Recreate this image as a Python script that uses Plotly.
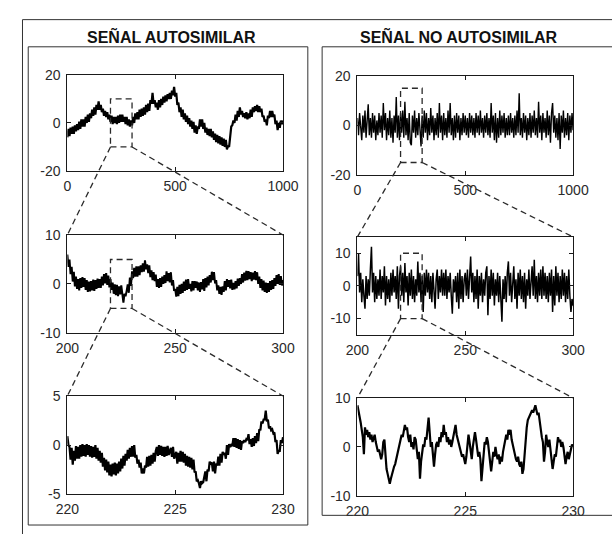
import plotly.graph_objects as go

W, H = 612, 534
FONT = "Liberation Sans, Arial, Helvetica, sans-serif"
INK = "#1a1a1a"

# ---------------------------------------------------------------------------
# Self-similar signal: full record (0-1000), zoom 200-300, zoom 220-230
# ---------------------------------------------------------------------------
ss_full_x0, ss_full_dx = 0, 5
ss_full = [
    -6, -2.5, -5.5, -2, -4.5, -1.5, -4.5, -1, -3.5, -0.5,
    -3, 0.5, -2.5, 1.5, -1.5, 1.5, -1.5, 2.5, 0, 3.5,
    0.5, 4, 2, 5.5, 3, 6.5, 3.5, 7.5, 5.5, 9,
    5.5, 7.5, 4.5, 6, 3, 5, 2.5, 4.5, 1.5, 3.5,
    0.5, 3, -0.5, 2.5, 0, 2.5, -0.5, 3, 0, 3.5,
    0.5, 3.5, 0.5, 2.5, -0.5, 2.5, -1, 1.5, -1.5, 1,
    -1, 2.5, 0, 4, 1.5, 4.5, 1.5, 5.5, 2.5, 6,
    3, 6.5, 3.5, 7.5, 4.5, 8, 5, 9.5, 8, 12.5,
    8, 9.5, 6.5, 8.5, 5.5, 9.5, 6.5, 10, 7.5, 11,
    8.5, 11.5, 9, 12, 10, 12.5, 10, 13.5, 11.5, 15,
    11, 12.5, 7.5, 8.5, 4.5, 6.5, 2.5, 5.5, 1.5, 4,
    0.5, 3, -0.5, 2, -1.5, 1, -2.5, 0.5, -4, -1,
    -4.5, -1.5, -2.5, 1.5, -1.5, 1.5, -2.5, 0, -4, -2,
    -5, -2.5, -5.5, -2.5, -6, -3.5, -7, -4.5, -8, -5,
    -8.5, -5.5, -9, -6, -9.5, -6.5, -10, -7, -11, -9.5,
    -10, -4.5, -1.5, -1, 1, 0, 3.5, 1, 5, 2.5,
    6.5, 3.5, 5, 2.5, 4, 2, 4.5, 1.5, 4, 2,
    5.5, 2.5, 6.5, 4.5, 7, 5, 7.5, 4.5, 7, 4.5,
    6, 2.5, 3, 0.5, 1.5, -1, 3, 2, 5, 2.5,
    5, 2.5, 3.5, -0.5, 1, -3, 0, -2, 1, -0.5,
    1,
]

ss_mid_x0, ss_mid_dx = 200, 0.5
ss_mid = [
    6, 3.5, 5, 2, 3.5, 0.5, 2.5, -0.5, 1.5, -1,
    1, -1.3, 1.2, -0.8, 1.4, -0.6, 1.2, -1.2, 0.8, -1.6,
    0.5, -1.5, 0.6, -1.3, 0.9, -1.4, 0.8, -1, 1.1, -0.8,
    1, -0.8, 1.5, -0.3, 2, 0.1, 2.2, -0.2, 1.7, -0.7,
    1, -1.2, 0.3, -2, -0.1, -2.3, -0.2, -2.5, -0.5, -2.1,
    -0.3, -2.6, -3.8, -2, -2.5, -1.4, -0.1, -1.8, 1.3, -0.4,
    2.6, 1.2, 3.3, 1.5, 3.6, 1.5, 3.6, 1.8, 3.8, 2.4,
    4.2, 2.5, 4.8, 3, 4, 2.2, 3.8, 1.4, 2.8, 0.8,
    2.4, 0.6, 1.9, -0.6, 1, -0.8, 1.2, -0.6, 1.5, 0,
    1.8, 0.2, 2.6, 0.6, 2.2, 0.3, 2.4, -0.3, 0.8, -1.4,
    -1, -2.6, -0.6, -2.5, -0.2, -2, 0, -1.8, 0.5, -1.4,
    0.9, -1.2, 1, -1, 0, -1.5, 0.6, -1.3, 0.6, -0.8,
    0.5, -1.3, 0.3, -1.6, 0.4, -1.1, 1, -1.4, 1.2, -0.7,
    1.5, -0.3, 1.8, 0.3, 2.5, 0.8, 2.4, 0.1, 0.8, -1.3,
    -0.3, -2, -0.6, -2.2, -0.5, -1.6, 0.6, -1.3, 1, -0.6,
    0.8, -0.9, 0.9, -1.2, 0.2, -1.1, 0.6, -0.9, 1.1, -0.4,
    1.2, 0, 2, 0.3, 2.3, 0.7, 2.7, 0.8, 2.6, 1,
    2.4, 0.6, 2.3, 0.9, 2.6, 0.8, 2.4, 0, 1.5, -0.8,
    1, -1.3, 0.7, -1.6, 0.3, -1.8, 0.2, -1.6, 0.6, -1.2,
    0.8, -1, 1.2, -0.4, 1.8, 0, 2, -0.2, 1.6, -0.3,
    0.8,
]

ss_fine_x0, ss_fine_dx = 220, 0.05
ss_fine = [
    0.9, 0, -0.2, -1.5, -0.3, -2, -0.6, -1.6, -0.1, -1.4,
    -0.2, -1.4, 0, -1.2, 0.1, -1.1, 0, -1.2, 0.1, -1,
    0, -1.2, -0.1, -1.3, -0.2, -1.2, 0, -1.4, -0.3, -1.6,
    -0.6, -1.8, -0.8, -2.2, -1.3, -2.6, -1.5, -2.8, -1.7, -3.1,
    -2, -3.2, -1.9, -3, -1.8, -3.1, -1.9, -2.9, -1.7, -2.7,
    -1.4, -2.4, -1.1, -2.1, -0.9, -1.6, -0.5, -1.4, -0.3, -1.2,
    -0.1, -1.2, 0, -1.3, -1, -1.9, -1.5, -2.3, -1.8, -2.9,
    -2.4, -2.9, -2.1, -2.3, -1.2, -2.2, -1.1, -2.1, -1, -1.9,
    -0.8, -1.7, -0.6, -0.2, -1.1, 0, -1, -0.1, -1.1, -0.2,
    -1.2, -0.2, -1.1, -0.1, -1, -0.7, -0.3, -1.2, -0.2, -1.4,
    -1.1, -0.7, -1.9, -0.8, -1.7, -0.6, -1.7, -0.7, -1.8, -0.9,
    -2.1, -1.1, -2.2, -1.2, -2.3, -1.3, -2.5, -1.5, -2.8, -2.7,
    -3.7, -3.6, -3.9, -4.4, -3.7, -3.9, -3.8, -3.2, -2.7, -3.7,
    -2.5, -2.7, -1.7, -1.9, -1.8, -2.7, -1.7, -2.9, -1.9, -2.1,
    -1.2, -2.1, -0.9, -1.8, -0.7, -1, -0.8, -1.4, 0, -1,
    0.1, -0.2, 0, -0.1, 0.7, -0.2, 0.7, -0.3, 0.6, -0.4,
    0.5, -0.5, 0.4, 0.2, 0.5, 0.3, 0.6, 0.5, 1.1, 0.1,
    0.6, -0.2, 0.7, -0.1, 0.9, 0.2, 1.2, 0.4, 1.6, 1.5,
    2.4, 2.2, 2.6, 2.6, 3.5, 2.4, 2.6, 1.7, 1.9, 1.5,
    1.6, 1.2, 1.3, 0.3, 0.5, -0.9, -0.6, -0.6, 0.5, 0.2,
    0.8,
]

# ---------------------------------------------------------------------------
# Non self-similar signal (uncorrelated noise) at the same three scales
# ---------------------------------------------------------------------------
ns_full_x0, ns_full_dx = 0, 5
ns_full = [
    3, -4, 5, -2, -6, 4, -3, 6, -5, 2,
    8.5, -4, 3, -5, 5, -3, 4, -6, 2, -4,
    5, -3, 4, -5, 9, -2, 5, -6, 3, -4,
    6, -5, 3, -7, 4, -3, 11.5, -5, 4, -6,
    5, -3, 6, -5, 9.5, -4, 3, -6, 5, -7,
    -8, 4, -3, 6, -5, 3, -4, 5, -2, -8.5,
    4, -5, 6, -3, 5, -6, 3, -4, 7, -3,
    4, -6, 3, -4, 5, -5, 9, -3, 4, -6,
    5, -4, 3, -5, 6, -3, 9, -4, 3, -6,
    4, -5, 5, -3, 4, -6, 3, -4, 5, -3,
    4, -4, 3, -5, 5, -3, 4, -4, 3, -5,
    5, -3, 4, -4, 6, -3, 3, -5, 4, -3,
    5, -4, 3, -5, 9, -3, 4, -6, 5, -7,
    3, -5, 6, -4, 4, -3, 5, -5, 3, -4,
    4, -4, 5, -3, 3, -5, 4, -4, 6, -3,
    13, -4, 3, -5, 5, -3, 4, -6, 3, -4,
    5, -5, 4, -3, 6, -4, 3, -5, 9.5, -3,
    4, -6, 5, -3, 3, -5, 6, -4, 4, -7,
    5, 9, -3, 4, -5, 3, -6, 5, -9.5, 4,
    -3, 6, -5, 3, -4, 5, -6, 4, -3, 5,
    -2,
]

ns_mid_x0, ns_mid_dx = 200, 0.5
ns_mid = [
    3, 10, -2, 4, -5, 2, -3, -7, 3, -4,
    2, -3, 5, 12, -2, 4, -5, 3, -4, 2,
    -3, 5, -4, 3, -2, 6, -6, 3, -4, 2,
    -5, 4, -3, 5, -2, 3, -4, 6, -7, 3,
    6, -3, 4, -5, 7, -2, 3, -6, 4, -3,
    5, -4, 3, -5, 2, -3, 7.5, -2, 4, -5,
    3, -8, 4, -3, 5, -2, 4, -4, 3, -5,
    4, -3, -7, 2, 5, -4, 3, -2, 5, -3,
    4, -3, 5, -4, 3, -2, 4, -3, -8.5, 2,
    -2, 3, -5, 4, -7, 5, -4, 3, -5, 2,
    4, -3, 5, -4, 3, 9, -2, 4, -5, 3,
    -4, 5, -7, 3, -3, 4, -5, 2, -3, 4,
    6, -9, 3, -4, 5, -3, 4, -6, 2, -3,
    4, -5, 3, -7, -11, 2, -4, 3, -5, 4,
    7.5, -3, 4, -5, 3, 6, -4, 2, -7, 4,
    -3, 5, -4, 3, -5, 4, -7, 2, -3, 5,
    -4, 3, 6, -3, 8, -4, 3, -5, 4, -3,
    5, -4, 6, -3, 4, -4, 3, -5, 4, -3,
    5, -8, 3, -6, 6, -3, 4, -5, 3, -4,
    5, -3, 4, -5, 3, -4, 5, -3, -8, -4,
    -6,
]

ns_fine_x0, ns_fine_dx = 220, 0.05
ns_fine = [
    8.5, 7.5, 6.5, 5, 3.5, 2, -1.5, 4, 2.5, 3.5,
    2, 3, 1.5, 2.5, 1, 2, 2.5, 1, 0, -1,
    -0.5, -1.5, -2.5, -1.5, 1, 1.5, -2, -4.5, -5.5, -6.5,
    -7.5, -6.5, -5.5, -4.5, -4, -3.5, -2.5, -2, -1, 0.5,
    1.5, 2.5, 2, 3.5, 4.5, 3.5, 4, 2, 1, 2.5,
    0, 1, -0.5, 2, 1.5, -0.5, -2.5, -1, -6.5, -3,
    -0.5, 0.5, 0, 2, 1.5, 3.5, 6, 3, 0, 1,
    -2.5, -4, -1.5, 0.5, 1, 0, 2, 1, 3, 2,
    4.5, 2.5, 3, 1, 2, 0.5, 1.5, 0, 1, 2.5,
    3, 4.5, 2.5, 1.5, 0.5, 0, -1, -2, -1.5, -3,
    -3.5, -2, 0, 2.5, 1, -1.5, -2.5, 0, 1.5, 3,
    1.5, 0, -2, -1, -2.5, -7, -4, -1, 1, 0.5,
    2, 1, -1, -2.5, -5, -3, -1, -2, 0, -1.5,
    -2.5, -1.5, -3.5, -2, -3, -1, 0, 1, 2.5, 1.5,
    3.5, 2.5, 3.5, 1.5, 0.5, -0.5, -2, -2.5, -3, -2,
    -3.5, -4, -3, -5.5, -4.5, -1, 2.5, 4, 5.5, 6,
    6.5, 7, 7.5, 7, 8, 8.5, 7.5, 6.5, 7, 5,
    3.5, 2, 1, -3, -1, 2.5, 1, 0, 1.5, -0.5,
    -2, -4.5, -3, -1.5, -2, 0.5, 2, 1, 1.5, 0,
    1, 0, -2, -3.5, -2, -1, -2.5, -1.5, -0.5, 0.5,
    0,
]

# Column titles
titles = ["SEÑAL AUTOSIMILAR", "SEÑAL NO AUTOSIMILAR"]

# Axis ranges / ticks for each zoom level
ranges = {
    "ss": [([0, 1000], [-20, 20]), ([200, 300], [-10, 10]), ([220, 230], [-5, 5])],
    "ns": [([0, 1000], [-20, 20]), ([200, 300], [-15, 15]), ([220, 230], [-10, 10])],
}
xticks = [[0, 500, 1000], [200, 250, 300], [220, 225, 230]]
yticks = {
    "ss": [[-20, 0, 20], [-10, 0, 10], [-5, 0, 5]],
    "ns": [[-20, 0, 20], [-10, 0, 10], [-10, 0, 10]],
}
series = {
    "ss": [(ss_full_x0, ss_full_dx, ss_full), (ss_mid_x0, ss_mid_dx, ss_mid),
           (ss_fine_x0, ss_fine_dx, ss_fine)],
    "ns": [(ns_full_x0, ns_full_dx, ns_full), (ns_mid_x0, ns_mid_dx, ns_mid),
           (ns_fine_x0, ns_fine_dx, ns_fine)],
}
line_widths = {"ss": [2.2, 2.0, 2.2], "ns": [1.4, 1.5, 2.2]}

# Plot-area rectangles in pixels: (left, right, top, bottom)
boxes = {
    "ss": [(58, 284, 69, 168), (58, 284, 234, 335), (58, 284, 400, 501)],
    "ns": [(362, 588, 70, 172), (362, 588, 236, 337), (362, 588, 402, 503)],
}


def px_x(p):
    return p / W


def px_y(p):
    return 1 - p / H


def tick_text(vals):
    # plain hyphen-minus for negative labels
    return ["-%g" % -v if v < 0 else "%g" % v for v in vals]


fig = go.Figure()
layout_axes = {}
shapes = []
annotations = []

axis_style = dict(
    showgrid=False, zeroline=False, showline=True, linecolor=INK, linewidth=1,
    mirror="allticks", ticks="inside", ticklen=4, tickwidth=1, tickcolor=INK,
    tickfont=dict(family=FONT, size=14, color="#2a2a2a"), fixedrange=True,
)

n = 0
for key in ("ss", "ns"):
    for lvl in range(3):
        n += 1
        sfx = "" if n == 1 else str(n)
        x0, dx, vals = series[key][lvl]
        xs = [x0 + i * dx for i in range(len(vals))]
        fig.add_trace(go.Scatter(
            x=xs, y=vals, mode="lines", xaxis="x" + sfx, yaxis="y" + sfx,
            line=dict(color="black", width=line_widths[key][lvl]),
            showlegend=False, hoverinfo="skip",
        ))
        l, r, t, b = boxes[key][lvl]
        xr, yr = ranges[key][lvl]
        layout_axes["xaxis" + sfx] = dict(
            axis_style, domain=[px_x(l), px_x(r)], range=xr, tickvals=xticks[lvl],
            ticktext=tick_text(xticks[lvl]), anchor="y" + sfx, ticklabelstandoff=2,
        )
        layout_axes["yaxis" + sfx] = dict(
            axis_style, domain=[px_y(b), px_y(t)], range=yr, tickvals=yticks[key][lvl],
            ticktext=tick_text(yticks[key][lvl]), anchor="x" + sfx, ticklabelstandoff=3,
        )


def to_paper(val, rng, lo, hi):
    return lo + (val - rng[0]) / (rng[1] - rng[0]) * (hi - lo)


# Zoom windows (dashed) and the dashed leader lines to the enlarged panel
dash_line = dict(color="#2a2a2a", width=1.3, dash="6px,4px")
n = 0
for key in ("ss", "ns"):
    for lvl in range(3):
        n += 1
        if lvl == 2:
            continue
        sfx = "" if n == 1 else str(n)
        nxr, nyr = ranges[key][lvl + 1]
        shapes.append(dict(type="rect", xref="x" + sfx, yref="y" + sfx,
                           x0=nxr[0], x1=nxr[1], y0=nyr[0], y1=nyr[1], line=dash_line))
        l, r, t, b = boxes[key][lvl]
        xr, yr = ranges[key][lvl]
        nl, nr, nt, nb = boxes[key][lvl + 1]
        cy = to_paper(nyr[0], yr, px_y(b), px_y(t))
        for xv, tx in ((nxr[0], nl), (nxr[1], nr)):
            cx = to_paper(xv, xr, px_x(l), px_x(r))
            shapes.append(dict(type="line", xref="paper", yref="paper",
                               x0=cx, y0=cy, x1=px_x(tx), y1=px_y(nt), line=dash_line))

# Frames around the whole figure and around each column
frame = dict(color="#333333", width=1)
shapes += [
    dict(type="line", xref="paper", yref="paper", x0=px_x(11), x1=1.05, y0=px_y(12), y1=px_y(12), line=frame),
    dict(type="line", xref="paper", yref="paper", x0=px_x(11), x1=px_x(11), y0=px_y(12), y1=-0.05, line=frame),
    dict(type="rect", xref="paper", yref="paper", x0=px_x(17), x1=px_x(310), y0=px_y(533), y1=px_y(40), line=frame),
    dict(type="rect", xref="paper", yref="paper", x0=px_x(325), x1=1.05, y0=px_y(523), y1=px_y(40), line=frame),
]

for title, cx in zip(titles, (167, 468)):
    annotations.append(dict(
        text="<b>%s</b>" % title, xref="paper", yref="paper", x=px_x(cx), y=px_y(29),
        xanchor="center", yanchor="middle", showarrow=False,
        font=dict(family=FONT, size=16, color="#111111"),
    ))

fig.update_layout(
    width=W, height=H, margin=dict(l=0, r=0, t=0, b=0),
    paper_bgcolor="white", plot_bgcolor="white",
    shapes=shapes, annotations=annotations, **layout_axes,
)

fig.write_html("out.html", config={"displayModeBar": False})
